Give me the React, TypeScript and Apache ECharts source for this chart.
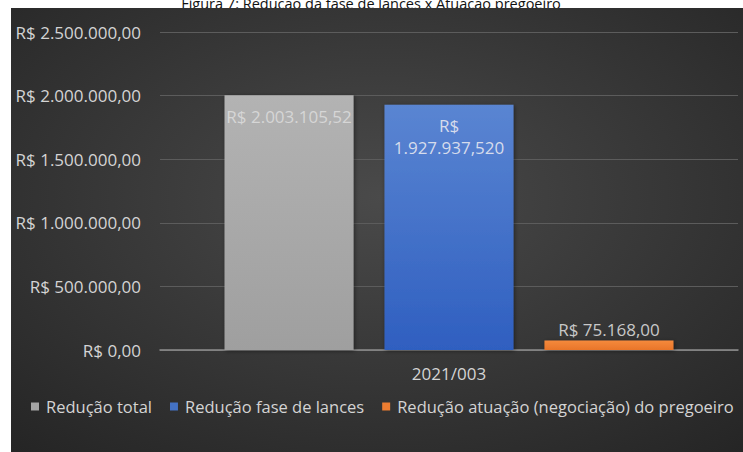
import React, { useEffect, useRef } from "react";
import * as echarts from "echarts";

const titleText = "Figura 7: Redução da fase de lances x Atuação pregoeiro";
const categories = ["2021/003"];
const seriesNames = [
  "Redução total",
  "Redução fase de lances",
  "Redução atuação (negociação) do pregoeiro",
];
const seriesValues = [2003105.52, 1927937.52, 75168.0];
const barLabels = ["R$ 2.003.105,52", "R$\n1.927.937,520", "R$ 75.168,00"];
const yTickLabels = [
  "R$ 0,00",
  "R$ 500.000,00",
  "R$ 1.000.000,00",
  "R$ 1.500.000,00",
  "R$ 2.000.000,00",
  "R$ 2.500.000,00",
];
const yMax = 2500000;
const yStep = 500000;

const FONT = "'Open Sans', 'Noto Sans', sans-serif";

export default function App() {
  const ref = useRef<HTMLDivElement>(null);
  useEffect(() => {
    if (!ref.current) return;
    const chart = echarts.init(ref.current, undefined, { renderer: "svg" });
    const grad = (top: string, bottom: string) =>
      new echarts.graphic.LinearGradient(0, 0, 0, 1, [
        { offset: 0, color: top },
        { offset: 1, color: bottom },
      ]);
    const barColors = [
      grad("#b3b3b3", "#9f9f9f"),
      grad("#5a85d2", "#2f5fc0"),
      grad("#f58a3c", "#e9752a"),
    ];
    const legendColors = ["#a5a5a5", "#4472c4", "#ed7d31"];
    const labelCfg = [
      { position: "insideTop", distance: 10, lineHeight: 22, color: "#d6d6d6" },
      { position: "insideTop", distance: 10, lineHeight: 22, color: "#d6dcec" },
      { position: "top", distance: 2, lineHeight: 18, color: "#c8c8c8" },
    ];
    chart.setOption({
      animation: false,
      backgroundColor: "#ffffff",
      textStyle: { fontFamily: FONT },
      graphic: [
        {
          type: "text",
          z: -20,
          x: 371,
          y: 3,
          style: {
            text: titleText,
            fill: "#111111",
            font: `14.5px ${FONT}`,
            textAlign: "center",
            textVerticalAlign: "middle",
          },
        },
        {
          type: "rect",
          z: -10,
          shape: { x: 11, y: 8, width: 740, height: 450 },
          style: {
            fill: new echarts.graphic.RadialGradient(0.5, 0.42, 0.75, [
              { offset: 0, color: "#4a4a4a" },
              { offset: 1, color: "#252525" },
            ]),
          },
        },
      ],
      legend: {
        left: 31,
        top: 398,
        width: 712,
        padding: 0,
        itemWidth: 8,
        itemHeight: 8,
        itemGap: 18,
        icon: "rect",
        textStyle: { color: "#d4d4d4", fontSize: 16.5, fontFamily: FONT, padding: [0, 0, 0, 2] },
        data: seriesNames.map((n, i) => ({ name: n, itemStyle: { color: legendColors[i] } })),
      },
      grid: { left: 160, right: 5, top: 32, bottom: 102, containLabel: false },
      xAxis: {
        type: "category",
        data: categories,
        axisLine: { lineStyle: { color: "#8f8f8f", width: 1.5 } },
        axisTick: { show: false },
        axisLabel: { color: "#d4d4d4", fontSize: 17, margin: 15, fontFamily: FONT },
      },
      yAxis: {
        type: "value",
        min: 0,
        max: yMax,
        interval: yStep,
        axisLine: { show: false },
        axisTick: { show: false },
        splitLine: { lineStyle: { color: "#5c5c5c", width: 1 } },
        axisLabel: {
          color: "#d4d4d4",
          fontSize: 17,
          margin: 19,
          fontFamily: FONT,
          formatter: (v: number) => yTickLabels[Math.round(v / yStep)],
        },
      },
      series: seriesNames.map((name, i) => ({
        type: "bar",
        name,
        barWidth: 129,
        barGap: "24%",
        data: [seriesValues[i]],
        itemStyle: {
          color: barColors[i],
          shadowBlur: 4,
          shadowColor: "rgba(0,0,0,0.45)",
          shadowOffsetX: 1,
          shadowOffsetY: 1,
        },
        label: {
          show: true,
          position: labelCfg[i].position,
          distance: labelCfg[i].distance,
          color: labelCfg[i].color,
          fontSize: 17,
          lineHeight: labelCfg[i].lineHeight,
          fontFamily: FONT,
          align: "center",
          formatter: () => barLabels[i],
        },
      })),
    });
    return () => chart.dispose();
  }, []);
  return (
    <div
      ref={ref}
      style={{ position: "fixed", left: 0, top: 0, width: 743, height: 452 }}
    />
  );
}
